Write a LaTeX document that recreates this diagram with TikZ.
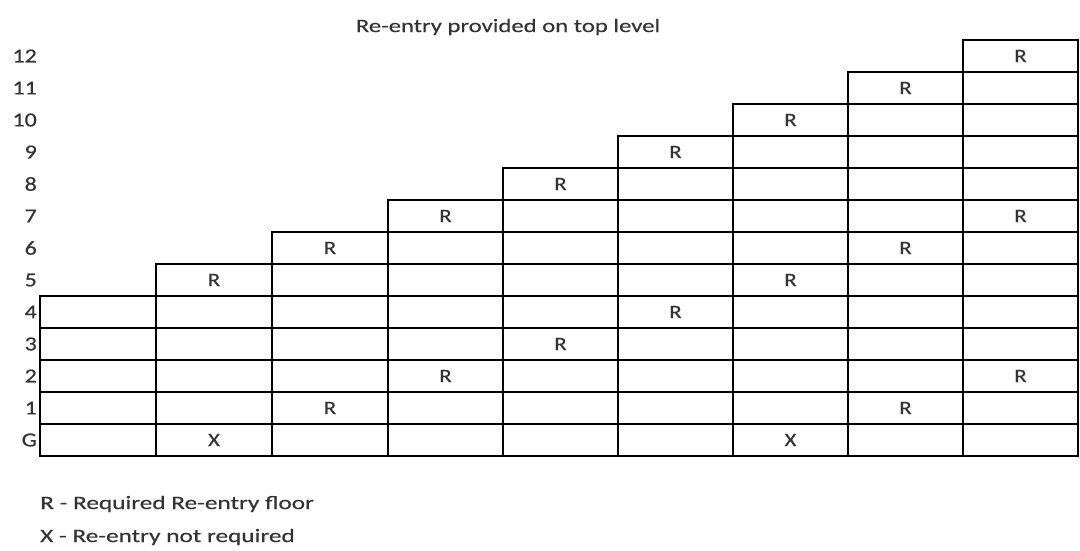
\documentclass[tikz,border=0pt]{standalone}
\usepackage{fontspec}
\setmainfont{Carlito}[FakeBold=0.35]
\newcommand{\wide}[2]{\scalebox{#1}[1]{#2}}
\begin{document}
\begin{tikzpicture}[x=1pt,y=-1pt,
  celltext/.style={font=\fontsize{19}{19}\selectfont, text=black!80},
  flrlabel/.style={anchor=east, font=\fontsize{20}{20}\selectfont, text=black!80, inner sep=0pt},
  gridline/.style={line width=2.6pt, draw=black},
  legend/.style={anchor=west, font=\fontsize{19}{19}\selectfont, text=black!80, inner sep=0pt}]
\useasboundingbox (0,0) rectangle (1080,551);
\def\xs{{40,156,272,388,503,618,733,848,963,1078}}
\foreach \i in {0,...,8}{
  \pgfmathtruncatemacro\ii{\i+1}
  \pgfmathsetmacro\xl{\xs[\i]}
  \pgfmathsetmacro\xr{\xs[\ii]}
  \pgfmathtruncatemacro\topf{4+\i}
  \foreach \f in {0,...,\topf}{
    \draw[gridline] (\xl,{456-32*\f}) rectangle (\xr,{424-32*\f});
  }
}
% floor labels
\node[flrlabel] (lG) at (37,440) {\wide{1.2}{G}};
\foreach \f in {1,...,12}{
  \node[flrlabel] (l\f) at (37,{440-32*\f}) {\wide{1.2}{\f}};
}
% R / X marks: column index, floor, letter
\foreach \c/\f/\t [count=\k] in {1/5/R,1/0/X,2/6/R,2/1/R,3/7/R,3/2/R,4/8/R,4/3/R,5/9/R,5/4/R,6/10/R,6/5/R,6/0/X,7/11/R,7/6/R,7/1/R,8/12/R,8/7/R,8/2/R}{
  \pgfmathtruncatemacro\cc{\c+1}
  \pgfmathsetmacro\xa{\xs[\c]}
  \pgfmathsetmacro\xb{\xs[\cc]}
  \pgfmathsetmacro\xc{(\xa+\xb)/2}
  \node[celltext] (m\k) at (\xc,{440-32*\f}) {\wide{1.2}{\t}};
}
\node[font=\fontsize{19}{19}\selectfont, text=black!80] (title) at (508,27) {\wide{1.3}{Re-entry provided on top level}};
\node[legend] (leg1) at (40,504) {\wide{1.33}{R - Required Re-entry floor}};
\node[legend] (leg2) at (40,537) {\wide{1.33}{X - Re-entry not required}};
\end{tikzpicture}
\end{document}
